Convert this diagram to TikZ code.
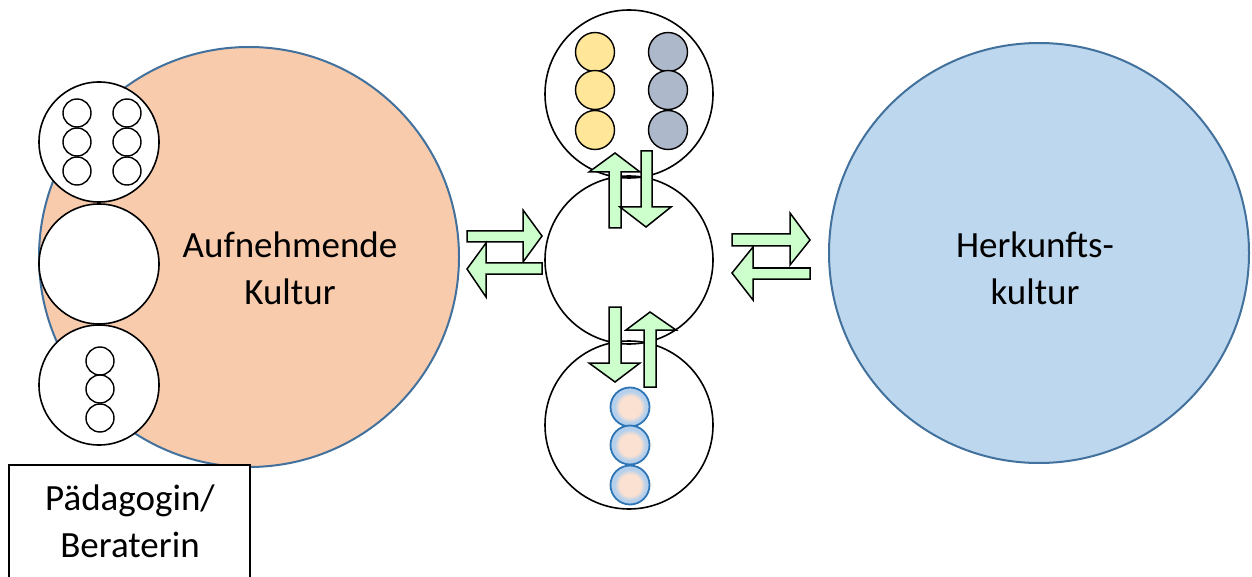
\documentclass[tikz,border=0pt]{standalone}
\usepackage{fontspec}
\setmainfont{Carlito}
\definecolor{orangefill}{HTML}{F8CBAD}
\definecolor{bluefill}{HTML}{BDD7EE}
\definecolor{edgeblue}{HTML}{41719C}
\definecolor{yellowfill}{HTML}{FFE699}
\definecolor{grayfill}{HTML}{ADB9CA}
\definecolor{peachc}{HTML}{FBE1D1}
\definecolor{lblue}{HTML}{B4D0EC}
\definecolor{ringblue}{HTML}{2E75B6}
\definecolor{arrowgreen}{HTML}{CCFFCC}
\pgfdeclareradialshading{peachblue}{\pgfpoint{0bp}{0bp}}{color(0bp)=(peachc); color(14bp)=(peachc); color(20bp)=(lblue); color(50bp)=(lblue)}
\begin{document}
\begin{tikzpicture}[x=1pt,y=-1pt,
  culture/.style={circle,draw=edgeblue,line width=2pt,minimum size=420pt,inner sep=0pt,font=\fontsize{37}{47}\selectfont,align=center},
  holder/.style={circle,draw=black,line width=1.6pt,fill=white,minimum size=120pt,inner sep=0pt},
  bigholder/.style={circle,draw=black,line width=1.6pt,minimum size=168pt,inner sep=0pt},
  dot/.style={circle,draw=black,line width=1.4pt,fill=white,minimum size=28pt,inner sep=0pt},
  ball/.style={circle,draw=black,line width=1.4pt,minimum size=39pt,inner sep=0pt},
  pball/.style={circle,draw=ringblue,line width=1.8pt,shading=peachblue,minimum size=39pt,inner sep=0pt},
  blockarrow/.style={draw=black,line width=1.5pt,fill=arrowgreen,line join=miter},
  labelbox/.style={draw=black,line width=1.5pt,font=\fontsize{37}{47}\selectfont,align=center}]
\useasboundingbox (0,0) rectangle (1252,577);
\clip (0,0) rectangle (1252,577);
\fill[white] (0,0) rectangle (1252,577);

% cultures
\node[culture,fill=orangefill] (auf) at (249,257) {};
\node[font=\fontsize{37}{47}\selectfont,align=center] (auftext) at (290,268) {Aufnehmende\\Kultur};
\node[culture,fill=bluefill] (her) at (1039,253) {};
\node[font=\fontsize{37}{47}\selectfont,align=center] (hertext) at (1035,268) {Herkunfts-\\kultur};

% left holders
\node[holder] (lt) at (99,142) {};
\node[holder] (lm) at (99,264) {};
\node[holder] (lb) at (99,385) {};
\foreach \x/\c in {77/a,127/b}{
  \foreach \y/\r in {113/1,142/2,171/3}{
    \node[dot] (lt\c\r) at (\x,\y) {};
  }
}
\foreach \y/\r in {361/1,389/2,418/3}{
  \node[dot] (lb\r) at (100,\y) {};
}

% center holders
\node[bigholder] (ct) at (629,94) {};
\node[bigholder] (cm) at (629,260) {};
\node[bigholder] (cb) at (629,425) {};
\foreach \y/\r in {52/1,90/2,130/3}{
  \node[ball,fill=yellowfill] (cy\r) at (595,\y) {};
  \node[ball,fill=grayfill] (cg\r) at (668,\y) {};
}
\foreach \y/\r in {407/1,445/2,485/3}{
  \node[pball] (cp\r) at (630,\y) {};
}

% block arrows
\draw[blockarrow] (609,228)--(609,172)--(589,172)--(615,153)--(640,172)--(621,172)--(621,228)--cycle;
\draw[blockarrow] (641,151)--(641,207)--(620,207)--(646,227)--(671,207)--(652,207)--(652,151)--cycle;
\draw[blockarrow] (609,307)--(609,363)--(589,363)--(615,382)--(640,363)--(621,363)--(621,307)--cycle;
\draw[blockarrow] (644,387)--(644,330)--(626,330)--(650,312)--(676,330)--(656,330)--(656,387)--cycle;
\draw[blockarrow] (467,231)--(523,231)--(523,210)--(542,236)--(523,262)--(523,242)--(467,242)--cycle;
\draw[blockarrow] (542,263)--(486,263)--(486,243)--(467,269)--(486,297)--(486,274)--(542,274)--cycle;
\draw[blockarrow] (732,234)--(790,234)--(790,213)--(810,240)--(790,265)--(790,246)--(732,246)--cycle;
\draw[blockarrow] (810,268)--(753,268)--(753,247)--(732,273)--(753,300)--(753,279)--(810,279)--cycle;

% label box
\draw[line width=1.5pt,fill=white] (9,590) -- (9,465) -- (250,465) -- (250,590);
\node[font=\fontsize{37}{47}\selectfont,align=center] (box) at (130,521) {Pädagogin/\\Beraterin};
\end{tikzpicture}
\end{document}
